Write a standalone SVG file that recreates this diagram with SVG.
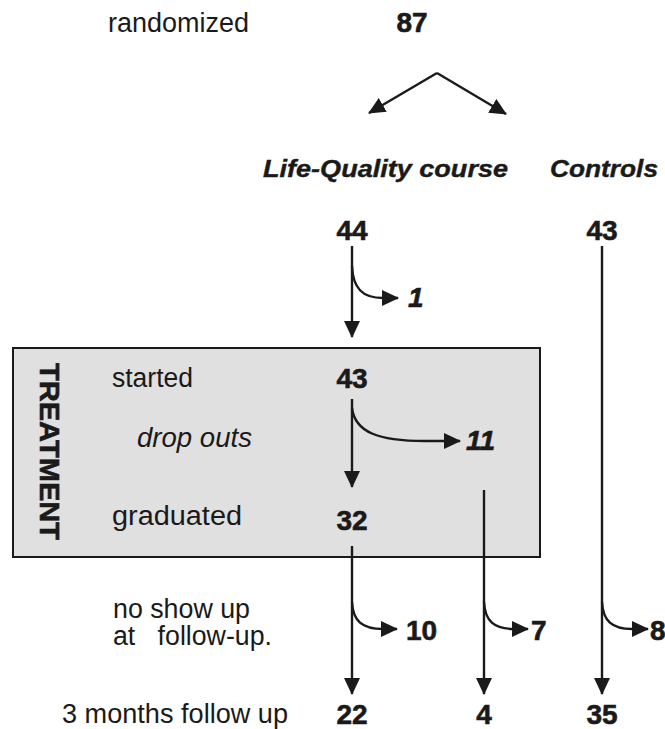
<svg xmlns="http://www.w3.org/2000/svg" width="665" height="729" viewBox="0 0 665 729">
<style>
text{font-family:"Liberation Sans",Arial,sans-serif;fill:#1a1a1a}
.lbl{font-size:27px}
.num{font-size:28px;font-weight:bold;stroke:#1a1a1a;stroke-width:0.6}
.head{font-size:24px;font-weight:bold;font-style:italic;stroke:#1a1a1a;stroke-width:0.4}
.it{font-style:italic}
.ln{fill:none;stroke:#1a1a1a;stroke-width:2.4}
</style>
<defs>
<marker id="ah" viewBox="0 0 17 16" refX="16" refY="8" markerWidth="17" markerHeight="16" markerUnits="userSpaceOnUse" orient="auto">
<path d="M0,0 L17,8 L0,16 Z" fill="#1a1a1a"/>
</marker>
</defs>
<g id="box"><rect x="13" y="348" width="527" height="209" fill="#e0e0e0" stroke="#1a1a1a" stroke-width="2"/></g>
<g id="randomized"><text class="lbl" x="108" y="32" textLength="141" lengthAdjust="spacingAndGlyphs">randomized</text><text class="num" x="412" y="32" text-anchor="middle">87</text></g>
<g id="lifequality"><text class="head" x="263" y="177" textLength="245" lengthAdjust="spacingAndGlyphs">Life-Quality course</text></g>
<g id="controls"><text class="head" x="550" y="177" textLength="108" lengthAdjust="spacingAndGlyphs">Controls</text></g>
<g id="n44"><text class="num" x="352" y="240" text-anchor="middle">44</text></g>
<g id="n43c"><text class="num" x="602" y="240" text-anchor="middle">43</text></g>
<g id="n1"><text class="num it" x="408" y="307">1</text></g>
<g id="treatment"><text class="num" transform="translate(40,363) rotate(90)" textLength="177" lengthAdjust="spacingAndGlyphs">TREATMENT</text></g>
<g id="started"><text class="lbl" x="112" y="387" textLength="81" lengthAdjust="spacingAndGlyphs">started</text><text class="num" x="352" y="388" text-anchor="middle">43</text></g>
<g id="dropouts"><text class="lbl it" x="137" y="447" textLength="115" lengthAdjust="spacingAndGlyphs">drop outs</text><text class="num it" x="466" y="450">11</text></g>
<g id="graduated"><text class="lbl" x="112" y="525" textLength="130" lengthAdjust="spacingAndGlyphs">graduated</text><text class="num" x="352" y="530" text-anchor="middle">32</text></g>
<g id="noshow"><text class="lbl" x="113" y="618" textLength="137" lengthAdjust="spacingAndGlyphs">no show up</text><text class="lbl" x="113" y="645" xml:space="preserve" textLength="159" lengthAdjust="spacingAndGlyphs">at   follow-up.</text></g>
<g id="n10"><text class="num" x="406" y="640">10</text></g>
<g id="n7"><text class="num" x="531" y="640">7</text></g>
<g id="n8"><text class="num" x="650" y="640">8</text></g>
<g id="followup"><text class="lbl" x="62" y="723" textLength="226" lengthAdjust="spacingAndGlyphs">3 months follow up</text><text class="num" x="352" y="724" text-anchor="middle">22</text><text class="num" x="484" y="724" text-anchor="middle">4</text><text class="num" x="602" y="724" text-anchor="middle">35</text></g>
<g id="connectors">
<path class="ln" d="M437,73 L369,113" marker-end="url(#ah)"/>
<path class="ln" d="M437,73 L506,114" marker-end="url(#ah)"/>
<path class="ln" d="M352,246 L352,337" marker-end="url(#ah)"/>
<path class="ln" d="M352,266 C353,288 362,298 383,298 L398,298" marker-end="url(#ah)"/>
<path class="ln" d="M352,399 L352,487" marker-end="url(#ah)"/>
<path class="ln" d="M352,408 C355,432 378,441 425,441 L460,441" marker-end="url(#ah)"/>
<path class="ln" d="M352,546 L352,694" marker-end="url(#ah)"/>
<path class="ln" d="M352,602 C353,621 362,629 383,629 L397,629" marker-end="url(#ah)"/>
<path class="ln" d="M484,490 L484,694" marker-end="url(#ah)"/>
<path class="ln" d="M484,602 C485,621 494,629 514,629 L528,629" marker-end="url(#ah)"/>
<path class="ln" d="M602,246 L602,694" marker-end="url(#ah)"/>
<path class="ln" d="M602,602 C603,621 612,629 632,629 L648,629" marker-end="url(#ah)"/>
</g>
</svg>
